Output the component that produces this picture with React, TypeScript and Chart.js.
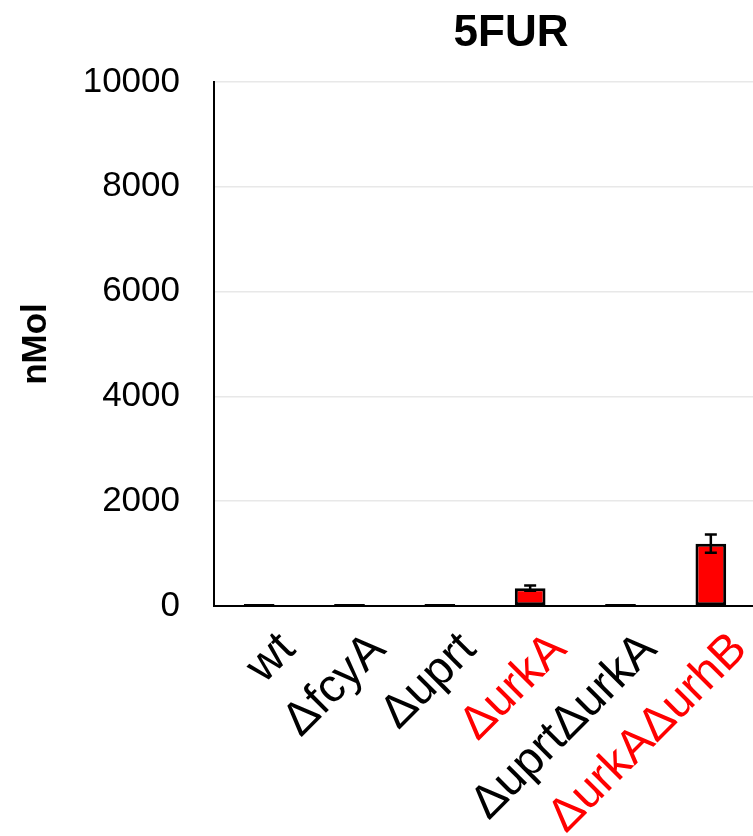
import React, { useEffect, useRef } from "react";
import { Chart, registerables } from "chart.js";

Chart.register(...registerables);

// Strains and measured 5FUR amounts (nMol), with standard deviations
const strains = ["wt", "ΔfcyA", "Δuprt", "ΔurkA", "ΔuprtΔurkA", "ΔurkAΔurhB"];
const nmolMeans = [40, 40, 40, 340, 40, 1190];
const nmolErrors = [0, 0, 0, 50, 0, 175];
const highlighted = [false, false, false, true, false, true];
const yTickValues = [0, 2000, 4000, 6000, 8000, 10000];
const chartTitle = "5FUR";
const yAxisTitle = "nMol";

const FONT = "'Liberation Sans', Arial, Helvetica, sans-serif";
const CANVAS_W = 1022;
const CANVAS_H = 836;

// Centered bold title across the full canvas width
const titlePlugin = {
  id: "centerTitle",
  afterDraw(chart: any) {
    const ctx = chart.ctx;
    ctx.save();
    ctx.font = `bold 44px ${FONT}`;
    ctx.fillStyle = "#000";
    ctx.textAlign = "center";
    ctx.textBaseline = "alphabetic";
    ctx.fillText(chartTitle, chart.width / 2, 46);
    ctx.restore();
  },
};

// Vertical error bars with caps, drawn from the error arrays
const errorBarPlugin = {
  id: "errorBars",
  afterDatasetsDraw(chart: any) {
    const ctx = chart.ctx;
    const yScale = chart.scales.y;
    const meta = chart.getDatasetMeta(0);
    ctx.save();
    ctx.strokeStyle = "#000";
    ctx.lineWidth = 2.5;
    meta.data.forEach((bar: any, i: number) => {
      const err = nmolErrors[i];
      if (!err) return;
      const v = nmolMeans[i];
      const yTop = yScale.getPixelForValue(v + err);
      const yBot = yScale.getPixelForValue(v - err);
      const x = bar.x;
      const cap = 6;
      ctx.beginPath();
      ctx.moveTo(x, yTop);
      ctx.lineTo(x, yBot);
      ctx.moveTo(x - cap, yTop);
      ctx.lineTo(x + cap, yTop);
      ctx.moveTo(x - cap, yBot);
      ctx.lineTo(x + cap, yBot);
      ctx.stroke();
    });
    ctx.restore();
  },
};

export default function App() {
  const canvasRef = useRef<HTMLCanvasElement | null>(null);

  useEffect(() => {
    if (!canvasRef.current) return;
    const chart = new Chart(canvasRef.current, {
      type: "bar",
      data: {
        labels: strains,
        datasets: [
          {
            data: nmolMeans,
            backgroundColor: "#ff0000",
            borderColor: "#000000",
            borderWidth: 3,
            borderSkipped: false,
            barPercentage: 0.34,
            categoryPercentage: 1,
          },
        ],
      },
      options: {
        animation: false,
        responsive: false,
        devicePixelRatio: 1,
        layout: {
          padding: { top: 82, right: CANVAS_W - 756, bottom: 0, left: 0 },
        },
        plugins: {
          legend: { display: false },
          tooltip: { enabled: false },
          title: { display: false },
        },
        scales: {
          x: {
            grid: { drawOnChartArea: false, drawTicks: false },
            border: { display: true, color: "#000", width: 2 },
            ticks: {
              autoSkip: false,
              maxRotation: 45,
              minRotation: 45,
              padding: 16,
              labelOffset: 29,
              font: { family: FONT, size: 47 },
              color: (c: any) => (highlighted[c.index] ? "#ff0000" : "#000000"),
            },
            afterFit: (s: any) => {
              s.height = CANVAS_H - 606;
            },
          },
          y: {
            min: 0,
            max: 10000,
            afterBuildTicks: (s: any) => {
              s.ticks = yTickValues.map((v) => ({ value: v }));
            },
            grid: { color: "#e8e8e8", lineWidth: 1.5, drawTicks: false },
            border: { display: true, color: "#000", width: 2 },
            ticks: {
              padding: 34,
              color: "#000",
              font: { family: FONT, size: 35 },
              callback: (v: any) => String(v),
            },
            title: {
              display: true,
              text: yAxisTitle,
              color: "#000",
              font: { family: FONT, size: 35, weight: "bold" },
              padding: { top: 15, bottom: 0 },
            },
            afterFit: (s: any) => {
              s.width = 214;
            },
          },
        },
      },
      plugins: [titlePlugin, errorBarPlugin],
    });
    return () => chart.destroy();
  }, []);

  return (
    <div
      style={{
        position: "fixed",
        left: 0,
        top: 0,
        width: 753,
        height: 836,
        overflow: "hidden",
        background: "#fff",
      }}
    >
      <canvas ref={canvasRef} width={CANVAS_W} height={CANVAS_H} style={{ display: "block" }} />
    </div>
  );
}
